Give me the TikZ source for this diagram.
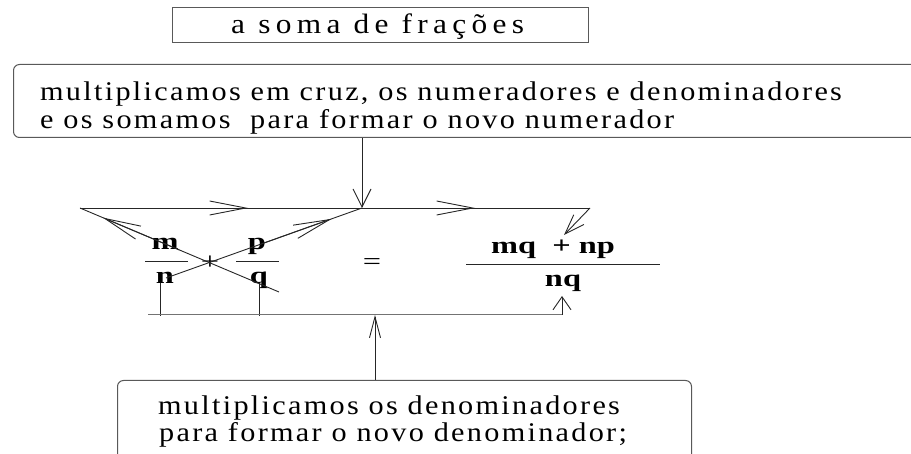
\documentclass[tikz,border=0pt]{standalone}
\usepackage{fontspec}
\setmainfont{Liberation Serif}
\newfontfamily\txtfont[FakeStretch=1.12,LetterSpace=8.5]{Liberation Serif}
\newfontfamily\ttlfont[FakeStretch=1.12,LetterSpace=19]{Liberation Serif}
\newfontfamily\frfont[FakeStretch=1.35]{Liberation Serif}
\usetikzlibrary{arrows.meta,calc}
\begin{document}
\begin{tikzpicture}[x=1pt,y=-1pt,
  boxline/.style={draw=black!65, line width=1pt},
  ln/.style={draw=black!85, line width=0.9pt},
  barb/.style={-{Straight Barb[length=#1pt,width=14pt,line width=0.9pt]}},
  txt/.style={anchor=base west, inner sep=0pt, font=\txtfont\fontsize{27pt}{29pt}\selectfont},
  frl/.style={anchor=base, inner sep=0pt, font=\frfont\bfseries\fontsize{24pt}{26pt}\selectfont},
]
\useasboundingbox (0,0) rectangle (911,454);
\clip (0,0) rectangle (911,454);

% title
\node[boxline, minimum width=416pt, minimum height=35pt, inner sep=0pt, anchor=north west] (title) at (172,7) {};
\node[anchor=base west, inner sep=0pt, font=\ttlfont\fontsize{28pt}{30pt}\selectfont] (titletxt) at (231,34) {a soma de frações};

% upper box
\node[boxline, rounded corners=6pt, minimum width=930pt, minimum height=73pt, inner sep=0pt, anchor=north west] (box1) at (13,64) {};
\node[txt] (b1l1) at (40,101) {multiplicamos em cruz, os numeradores e denominadores};
\node[txt] (b1l2) at (40,129) {e os somamos\ \ para formar o novo numerador};

% lower box
\node[boxline, rounded corners=6pt, minimum width=574pt, minimum height=100pt, inner sep=0pt, anchor=north west] (box2) at (117,380) {};
\node[txt] (b2l1) at (158,414) {multiplicamos os denominadores};
\node[txt] (b2l2) at (159,442) {para formar o novo denominador;};

% fractions
\node[frl] (m) at (165,250) {m};
\node[frl] (n) at (165,284) {n};
\node[frl] (p) at (257,250) {p};
\node[frl] (q) at (259,284) {q};
\node[frl, font=\frfont\fontsize{24pt}{26pt}\selectfont] (plus) at (210,270) {+};
\node[frl, font=\frfont\fontsize{24pt}{26pt}\selectfont] (eq) at (372,270) {=};
\node[frl] (num) at (553,254) {mq\ \ + np};
\node[frl] (den) at (563,287) {nq};

\coordinate (mb1) at (145,261); \coordinate (mb2) at (188,261);
\coordinate (pb1) at (236,261); \coordinate (pb2) at (279,261);
\coordinate (rb1) at (466,264); \coordinate (rb2) at (660,264);
\draw[ln] (mb1) -- (mb2);
\draw[ln] (pb1) -- (pb2);
\draw[ln] (rb1) -- (rb2);

% cross lines and top line
\coordinate (L) at (80,208);
\coordinate (J) at (362,208);
\coordinate (R) at (590,208);
\coordinate (Aend) at (279,292);
\coordinate (Bstart) at (166,278);
\coordinate (res) at (564,235);

\draw[ln] (L) -- (R);
\draw[ln, barb=36] (211,208) -- (248,208);
\draw[ln, barb=36] (438,208) -- (475,208);
\draw[ln, barb=20] (R) -- (res);

\draw[ln] (L) -- (Aend);
\draw[ln, barb=36] ($(L)!0.5!(Aend)$) -- ($(L)!0.115!(Aend)$);
\draw[ln] (Bstart) -- (J);
\draw[ln, barb=36] ($(Bstart)!0.5!(J)$) -- ($(Bstart)!0.845!(J)$);

\draw[ln, -{Straight Barb[length=18pt,width=18pt,line width=0.9pt]}] (box1.south -| J) -- (J);

% bottom line
\coordinate (nb) at (160,316);
\coordinate (qb) at (259,316);
\coordinate (BL) at (148,315);
\coordinate (BR) at (562,315);
\coordinate (BM) at (375,315);
\draw[ln] (160,283) -- (nb);
\draw[ln] (259,283) -- (qb);
\draw[draw=black!55, line width=1pt] (BL) -- (BR);
\draw[ln, -{Straight Barb[length=13pt,width=18pt,line width=0.9pt]}] (BR) -- (562,296);
\draw[ln, -{Straight Barb[length=21pt,width=11pt,line width=0.9pt]}] (box2.north -| BM) -- (BM);
\end{tikzpicture}
\end{document}
